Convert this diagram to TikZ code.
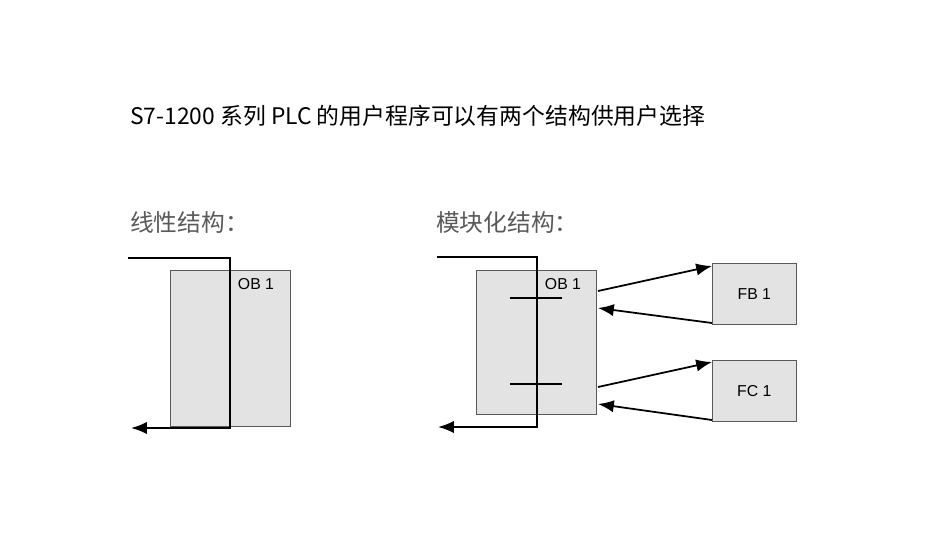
\documentclass[tikz,border=0pt]{standalone}
\usepackage{fontspec}
\setmainfont{Liberation Sans}
\newfontfamily\cjk{Noto Sans CJK SC}
\usetikzlibrary{positioning,arrows.meta}
\tikzset{
  blk/.style={rectangle, draw=gray!70!black, fill=gray!22, anchor=north west, inner sep=0pt},
  flow/.style={line width=1.1pt, -{Latex[length=9pt,width=7pt]}},
  call/.style={line width=1pt, -{Latex[length=9pt,width=7pt]}},
}
\begin{document}
\begin{tikzpicture}[x=0.02cm, y=-0.02cm]
  \useasboundingbox (0,0) rectangle (950,535);
  % title
  \node[anchor=west, font=\cjk\fontsize{13pt}{15pt}\selectfont] (title) at (124,116) {S7-1200 系列 PLC 的用户程序可以有两个结构供用户选择};
  \node[anchor=west, text=gray!70!black, font=\cjk\fontsize{13.5pt}{15pt}\selectfont] (linlab) at (124,222) {线性结构：};
  \node[anchor=west, text=gray!70!black, font=\cjk\fontsize{13.5pt}{15pt}\selectfont] (modlab) at (430,222) {模块化结构：};

  % linear structure
  \node[blk, minimum width=2.4cm, minimum height=3.12cm] (ob1l) at (170,270) {};
  \node[font=\fontsize{9pt}{10pt}\selectfont] (ob1ltxt) at (256,284) {OB 1};
  \coordinate (ls) at (128,258);
  \coordinate (lt) at (230,258);
  \coordinate (lb) at (230,428);
  \coordinate (le) at (131,428);
  \draw[flow] (ls) -- (lt) -- (lb) -- (le);

  % modular structure
  \node[blk, minimum width=2.4cm, minimum height=2.88cm] (ob1m) at (476,270) {};
  \node[font=\fontsize{9pt}{10pt}\selectfont] (ob1mtxt) at (563,284) {OB 1};
  \node[blk, minimum width=1.68cm, minimum height=1.22cm] (fb1) at (712,263) {};
  \node[font=\fontsize{9pt}{10pt}\selectfont] at (fb1.center) {FB 1};
  \node[blk, minimum width=1.68cm, minimum height=1.22cm] (fc1) at (712,360) {};
  \node[font=\fontsize{9pt}{10pt}\selectfont] at (fc1.center) {FC 1};
  \coordinate (ms) at (437,257);
  \coordinate (mt) at (537,257);
  \coordinate (mb) at (537,427);
  \coordinate (me) at (438,427);
  \draw[flow] (ms) -- (mt) -- (mb) -- (me);
  \foreach \y/\n in {298/a, 384/b} {
    \coordinate (bar\n l) at (510,\y);
    \coordinate (bar\n r) at (562,\y);
    \draw[line width=1pt] (bar\n l) -- (bar\n r);
  }

  % calls and returns
  \draw[call] (598,291) -- (fb1.north west |- 0,266);
  \draw[call] (fb1.south west |- 0,323) -- (598,308);
  \draw[call] (598,387) -- (fc1.north west |- 0,362);
  \draw[call] (fc1.south west |- 0,420) -- (598,404);
\end{tikzpicture}
\end{document}
